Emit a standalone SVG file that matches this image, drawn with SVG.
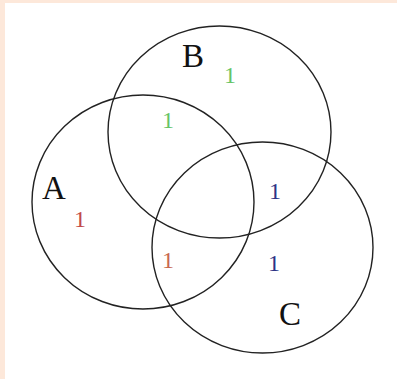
<svg xmlns="http://www.w3.org/2000/svg" width="397" height="379" viewBox="0 0 397 379">
<style>
.c{fill:none;stroke:#222;stroke-width:1.4}
.L{font-family:"Liberation Serif","Times New Roman",serif;font-size:33px;fill:#111}
.n{font-family:"Liberation Serif","Times New Roman",serif;font-size:24px;text-anchor:middle}
.g{fill:#66c466}.r{fill:#c24a4a}.r2{fill:#c8684f}.b{fill:#2e3386}
</style>
<rect width="397" height="379" fill="#fde8da"/>
<rect x="5" y="3" width="392" height="376" fill="#fff"/>
<g id="setA">
<ellipse class="c" cx="143" cy="202" rx="111" ry="107"/>
<text class="L" x="42" y="199">A</text>
</g>
<g id="setB">
<ellipse class="c" cx="219.5" cy="132" rx="111.5" ry="106"/>
<text class="L" x="182" y="67">B</text>
</g>
<g id="setC">
<ellipse class="c" cx="262.5" cy="247.5" rx="110.5" ry="105.5"/>
<text class="L" x="279" y="325">C</text>
</g>
<g id="counts">
<text class="n g" x="230" y="83">1</text>
<text class="n g" x="168" y="128">1</text>
<text class="n r" x="80" y="227">1</text>
<text class="n b" x="275" y="199">1</text>
<text class="n r2" x="168" y="268">1</text>
<text class="n b" x="274" y="271">1</text>
</g>
</svg>
